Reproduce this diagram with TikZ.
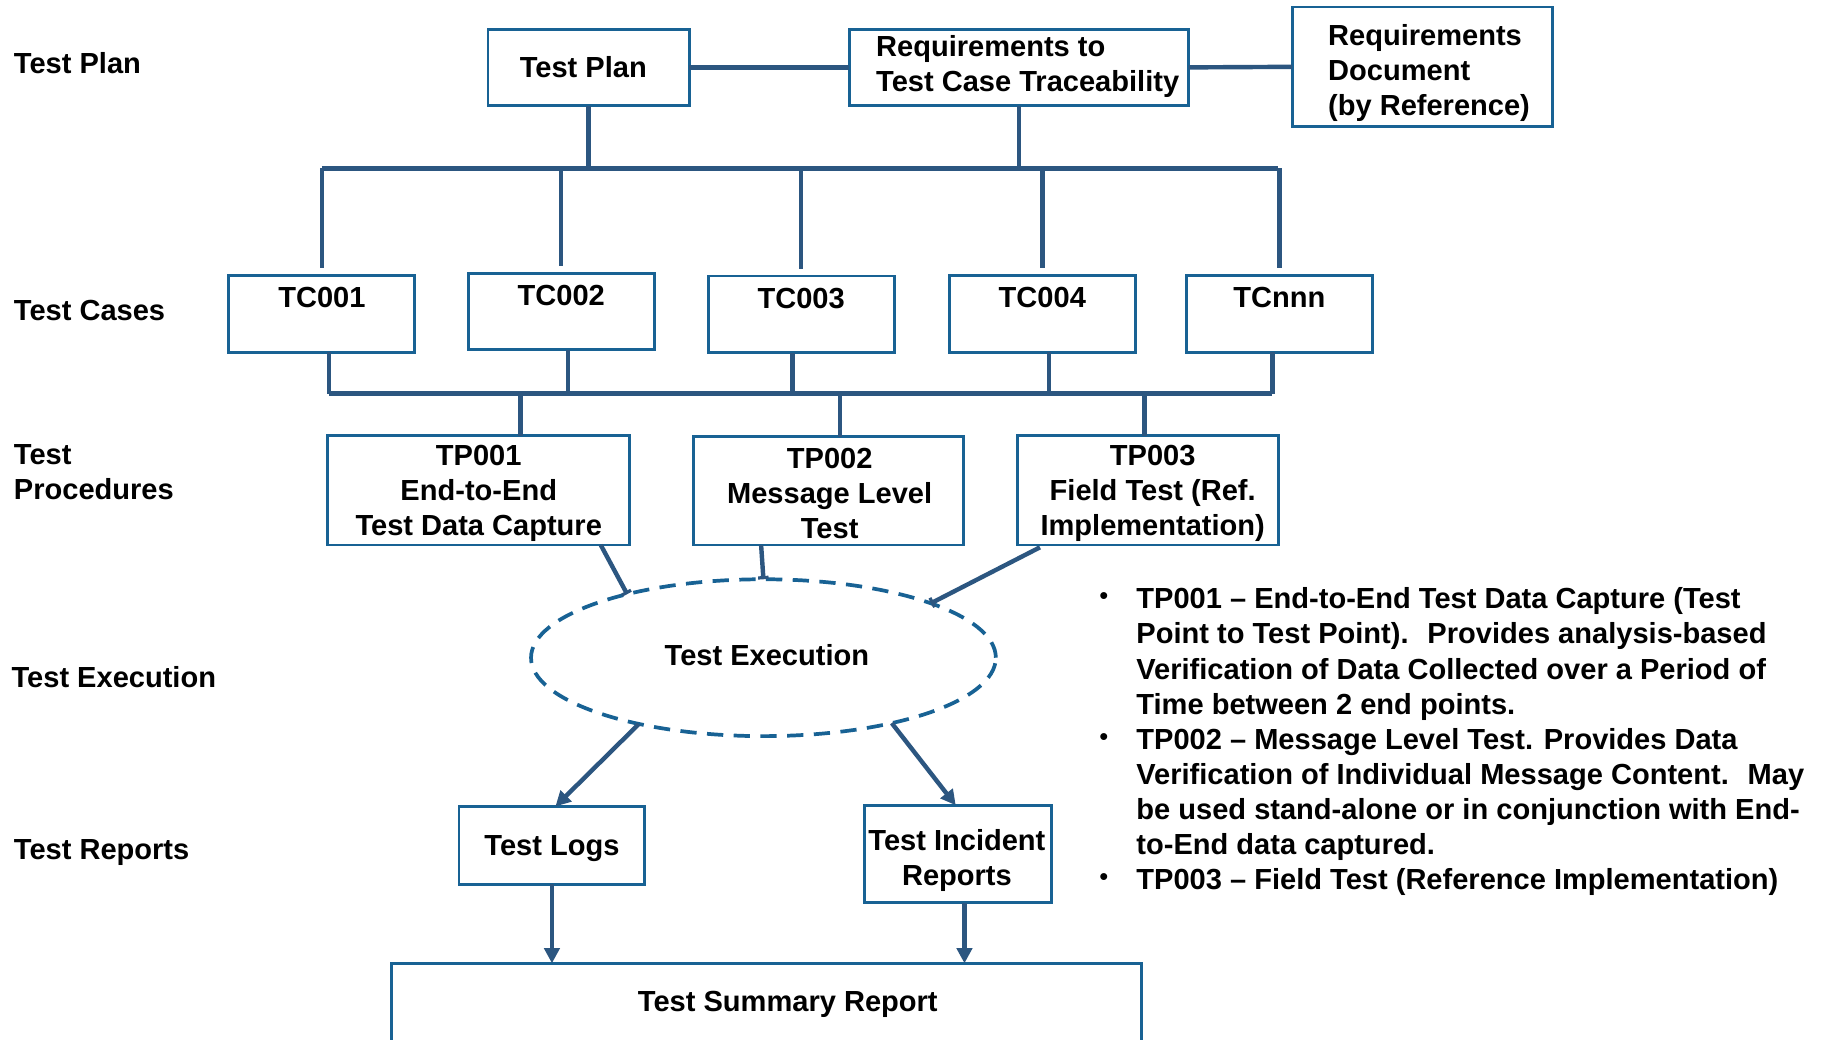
\documentclass[tikz,border=0pt]{standalone}
\usepackage{fontspec}
\setmainfont{Liberation Sans}
\usetikzlibrary{arrows.meta,shapes.geometric,calc}
\definecolor{boxblue}{RGB}{24,98,148}
\definecolor{linkblue}{RGB}{44,86,128}
\begin{document}
\begin{tikzpicture}[x=1pt,y=-1pt,
  every node/.style={font=\fontsize{25}{30.3}\selectfont\bfseries, inner sep=0pt, outer sep=0pt},
  box/.style={draw=boxblue, line width=2.5pt, rectangle, fill=white},
  boxline/.style={draw=boxblue, line width=2.5pt},
  txt/.style={align=center},
  link/.style={draw=linkblue, line width=3.8pt},
  busline/.style={draw=linkblue, line width=4.4pt},
  arr/.style={link, -{Triangle[length=13pt,width=13pt]}},
  tee/.style={link, -{Bar[width=9pt,line width=2.8pt]}},
  tcbox/.style={box, minimum width=160pt, minimum height=66pt},
  lbl/.style={anchor=west, align=left},
  item/.style={anchor=north west, align=left},
  dot/.style={font=\fontsize{22}{22}\selectfont}
]
\useasboundingbox (0,0) rectangle (1568,895);
\clip (0,0) rectangle (1568,895);
\fill[white] (0,0) rectangle (1568,895);

% row captions
\node[lbl] (capPlan) at (12,54) {Test Plan};
\node[lbl] (capCases) at (12,267) {Test Cases};
\node[lbl] (capProc) at (12,406.5) {Test\\Procedures};
\node[lbl] (capExec) at (10,583) {Test Execution};
\node[lbl] (capRep) at (12,733.5) {Test Reports};

% plan level
\node[box, minimum width=173pt, minimum height=66pt] (tplan) at (506.5,58) {};
\node[txt] (tplantext) at (502,57.5) {Test Plan};
\node[box, minimum width=292pt, minimum height=66pt] (rtc) at (877,58) {};
\node[lbl] (rtctext) at (754,57.5) {Requirements to\\Test Case Traceability};
\node[box, minimum width=224pt, minimum height=103pt] (rdoc) at (1224,57.5) {};
\node[lbl] (rdoctext) at (1143,63) {Requirements\\Document\\(by Reference)};

\draw[link] (tplan.east) -- (rtc.west);
\draw[link] (rtc.east) -- (rdoc.west);

% test cases
\node[tcbox] (tc1) at (277,270) {};
\node[tcbox] (tc2) at (483,268) {};
\node[tcbox] (tc3) at (689.5,270.5) {};
\node[tcbox] (tc4) at (897,270) {};
\node[tcbox] (tc5) at (1101,270) {};
\node (tc1t) at ([yshift=-19pt]tc1.north) {TC001};
\node (tc2t) at ([yshift=-19pt]tc2.north) {TC002};
\node (tc3t) at ([yshift=-19pt]tc3.north) {TC003};
\node (tc4t) at ([yshift=-19pt]tc4.north) {TC004};
\node (tc5t) at ([yshift=-19pt]tc5.north) {TCnnn};

% upper distribution bus
\coordinate (busA) at (277,145);
\coordinate (busB) at (1100,145);
\draw[busline] (busA) -- (busB);
\draw[link] (tplan.south) -- (tplan.south |- busA);
\draw[link] (rtc.south) -- ([yshift=-2pt]rtc.south |- busA);
\foreach \t in {tc1,tc2,tc3,tc4,tc5}{
  \draw[link] (\t.north |- busA) -- ([yshift=6pt]\t.north);
}

% test procedures
\node[box, minimum width=260pt, minimum height=94pt] (tp1) at (412,422) {};
\node[box, minimum width=232pt, minimum height=93pt] (tp2) at (713,422.5) {};
\node[box, minimum width=224pt, minimum height=94pt] (tp3) at (988,422) {};
\node[txt] (tp1text) at (412,424.5) {TP001\\End-to-End\\Test Data Capture};
\node[txt] (tp2text) at (714,424.5) {TP002\\Message Level\\Test};
\node[txt] (tp3text) at (992,424.5) {TP003\\Field Test (Ref.\\Implementation)};

% lower collection bus
\coordinate (busC) at (283,339);
\coordinate (busD) at (1095,339);
\draw[link] ([xshift=6pt]tc1.south) -- ([xshift=6pt]tc1.south |- busC);
\draw[link] ([xshift=6pt]tc2.south) -- ([xshift=6pt]tc2.south |- busC);
\draw[link] ([xshift=-7.5pt]tc3.south) -- ([xshift=-7.5pt]tc3.south |- busC);
\draw[link] ([xshift=6pt]tc4.south) -- ([xshift=6pt]tc4.south |- busC);
\draw[link] ([xshift=-6pt]tc5.south) -- ([xshift=-6pt]tc5.south |- busC);
\draw[busline] (busC) -- (busD);
\draw[link] ([xshift=36pt]tp1.north |- busC) -- ([xshift=36pt]tp1.north);
\draw[link] ([xshift=10pt]tp2.north |- busC) -- ([xshift=10pt]tp2.north);
\draw[link] ([xshift=-3pt]tp3.north |- busC) -- ([xshift=-3pt]tp3.north);

% execution
\node[ellipse, draw=boxblue, line width=3.2pt, dash pattern=on 14pt off 9pt,
      minimum width=400pt, minimum height=135pt] (exec) at (657,566) {};
\node (exectext) at (660,564) {Test Execution};

\draw[tee] ([xshift=-25pt]tp1.south east) -- (exec.155);
\draw[tee] ([xshift=-58pt]tp2.south) -- (exec.north);
\draw[tee] ([xshift=19pt,yshift=-2pt]tp3.south west) -- (exec.18);

% reports
\node[box, minimum width=160pt, minimum height=67pt] (logs) at (475,727.5) {};
\node[txt] (logstext) at (475,730.5) {Test Logs};
\node[box, minimum width=161pt, minimum height=84pt] (inc) at (824.5,735) {};
\node[txt] (inctext) at (823.5,740.5) {Test Incident\\Reports};

\draw[arr] (exec.208) -- ([xshift=3pt]logs.north);
\draw[arr] (exec.333) -- ([xshift=-2pt]inc.north);

% summary
\coordinate (sumNW) at (337,829);
\coordinate (sumNE) at (982,829);
\node (sumtext) at (678,864) {Test Summary Report};
\draw[boxline] ([yshift=-90pt]sumNW) -- (sumNW) -- (sumNE) -- ([yshift=-90pt]sumNE);

\draw[arr] (logs.south) -- (logs.south |- sumNW);
\draw[arr] ([xshift=5.5pt]inc.south) -- ([xshift=5.5pt]inc.south |- sumNW);

% notes on the procedures
\node[dot] (b1) at (950,515) {\textbullet};
\node[dot] (b2) at (950,636) {\textbullet};
\node[dot] (b3) at (950,757) {\textbullet};
\node[item] (n1) at (978,505.7) {TP001 – End-to-End Test Data Capture (Test\\Point to Test Point).~ Provides analysis-based\\Verification of Data Collected over a Period of\\Time between 2 end points.};
\node[item] (n2) at (978,626.7) {TP002 – Message Level Test. Provides Data\\Verification of Individual Message Content.~ May\\be used stand-alone or in conjunction with End-\\to-End data captured.};
\node[item] (n3) at (978,747.7) {TP003 – Field Test (Reference Implementation)};
\end{tikzpicture}
\end{document}
